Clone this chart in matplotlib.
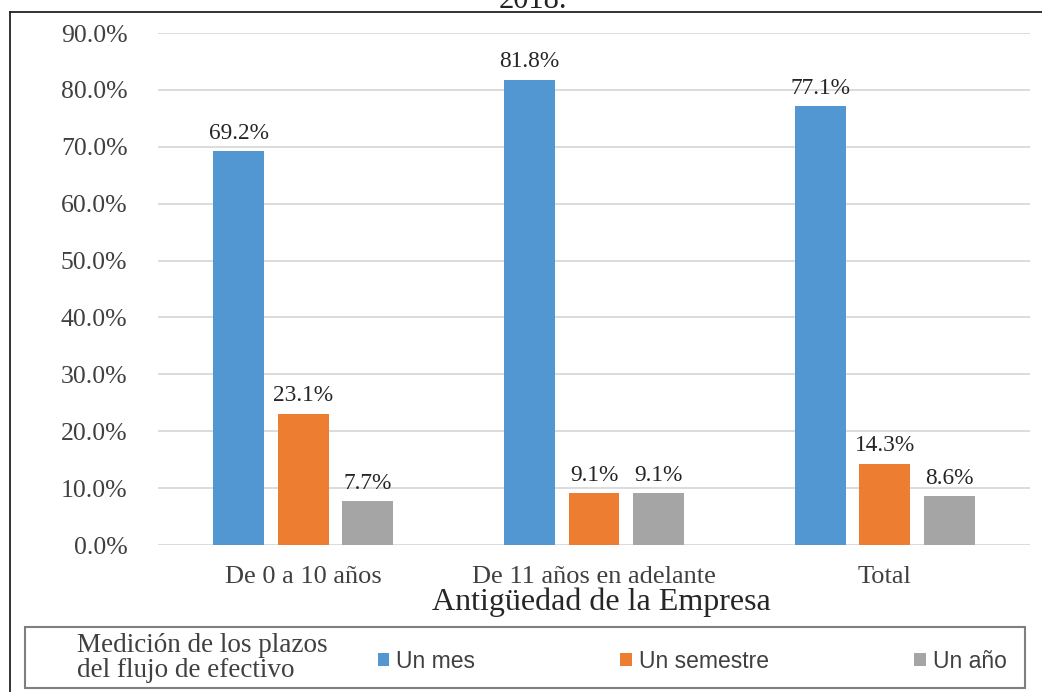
import matplotlib.pyplot as plt
import numpy as np
from matplotlib.patches import Rectangle
from matplotlib.lines import Line2D

categories = ["De 0 a 10 años", "De 11 años en adelante", "Total"]
series = ["Un mes", "Un semestre", "Un año"]
un_mes = [69.2, 81.8, 77.1]
un_semestre = [23.1, 9.1, 14.3]
un_anio = [7.7, 9.1, 8.6]
colors = ["#5296D2", "#ED7D31", "#A5A5A5"]

W, H = 1042, 692
fig = plt.figure(figsize=(W / 100, H / 100), dpi=100)
serif = "Liberation Serif"

# plot area in pixels
x0, x1, ytop, ybot = 158, 1030, 33, 545
ax = fig.add_axes([x0 / W, 1 - ybot / H, (x1 - x0) / W, (ybot - ytop) / H])

x = np.arange(len(categories))
bw = 0.175
step = 0.222
for i, (vals, c) in enumerate(zip([un_mes, un_semestre, un_anio], colors)):
    pos = x + (i - 1) * step
    bars = ax.bar(pos, vals, width=bw, color=c, label=series[i], zorder=3)
    for b, v in zip(bars, vals):
        ax.text(b.get_x() + b.get_width() / 2, v + 1.3, f"{v:.1f}%",
                ha="center", va="bottom", fontsize=16.8, family=serif,
                color="#262626", zorder=4)

ax.set_xlim(-0.5, 2.5)
ax.set_ylim(0, 90)
ax.set_yticks(np.arange(0, 91, 10))
ax.set_yticklabels([f"{t:.1f}%" for t in np.arange(0, 91, 10)], family=serif,
                   fontsize=18.5, color="#404040")
ax.set_xticks(x)
ax.set_xticklabels(categories, family=serif, fontsize=19, color="#404040")
ax.tick_params(length=0, pad=22, axis="y")
ax.tick_params(length=0, pad=15, axis="x")
ax.grid(axis="y", color="#D9D9D9", lw=1.3, zorder=0)
for s in ax.spines.values():
    s.set_visible(False)

# axis title
fig.text(601 / W, 1 - 610 / H, "Antigüedad de la Empresa", ha="center",
         va="baseline", family=serif, fontsize=23, color="#262626")

# cut-off title on top
fig.text(533 / W, 1 - 8 / H, "2018.", ha="center", va="baseline",
         family=serif, fontsize=22, color="#222222")

# outer frame
fig.add_artist(Line2D([10 / W, 10 / W], [0, 1 - 12 / H], color="#222222", lw=1.3,
                      transform=fig.transFigure))
fig.add_artist(Line2D([10 / W, 1], [1 - 12 / H, 1 - 12 / H], color="#222222", lw=1.3,
                      transform=fig.transFigure))

# legend box
fig.add_artist(Rectangle((25 / W, 1 - 688 / H), 1000 / W, 61 / H,
                         transform=fig.transFigure, fill=False,
                         edgecolor="#7F7F7F", lw=1.5))
fig.text(77 / W, 1 - 658 / H, "Medición de los plazos\ndel flujo de efectivo",
         ha="left", va="center", family=serif, fontsize=19.5, color="#404040",
         linespacing=0.95)
handles, labels = ax.get_legend_handles_labels()
fig.legend(handles, labels, loc="center left", bbox_to_anchor=(357 / W, 1 - 661 / H),
           ncol=3, frameon=False, prop={"family": "Liberation Sans", "size": 16.5},
           handlelength=0.5, handleheight=0.5, handletextpad=0.3,
           columnspacing=6.35, labelcolor="#404040")

fig.savefig("out.png", dpi=100)
